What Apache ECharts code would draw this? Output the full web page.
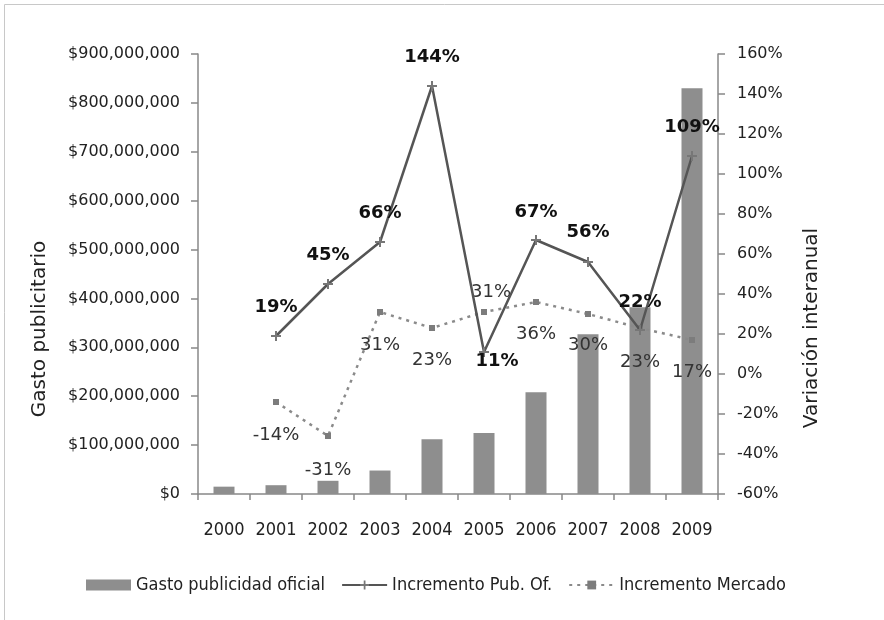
<!DOCTYPE html>
<html>
<head>
<meta charset="utf-8">
<script src="https://cdn.jsdelivr.net/npm/echarts@6/dist/echarts.min.js"></script>
<style>
  html, body { margin: 0; padding: 0; background: #fff; }
  #main { width: 884px; height: 620px; }
</style>
</head>
<body>
<div id="main"></div>
<script>
var years = ['2000', '2001', '2002', '2003', '2004', '2005', '2006', '2007', '2008', '2009'];
// gasto publicidad oficial ($)
var gasto = [15000000, 18000000, 27000000, 48000000, 112000000, 125000000, 208000000, 327000000, 382000000, 830000000];
// variacion interanual (%)
var incPub = [null, 19, 45, 66, 144, 11, 67, 56, 22, 109];
var incMercado = [null, -14, -31, 31, 23, 31, 36, 30, 23, 17];

// label offsets (px, from the point)
var pubOffsets = [null, [0, -29], [0, -29], [0, -29], [0, -29], [13, 9], [0, -28], [0, -30], [0, -28], [0, -29]];
var merOffsets = [null, [0, 33], [0, 34], [0, 33], [0, 32], [7, -20], [0, 32], [0, 31], [0, 34], [0, 32]];

var numFont = 'DejaVu Sans';
var condFont = '"DejaVu Sans Condensed", "DejaVu Sans", sans-serif';

function withLabels(values, offsets) {
    return values.map(function (v, i) {
        if (v == null) return v;
        return { value: v, label: { offset: offsets[i] } };
    });
}

var myChart = echarts.init(document.getElementById('main'));

var option = {
    animation: false,
    grid: { left: 198, right: 166, top: 54, bottom: 126 },
    graphic: [
        {
            type: 'rect',
            shape: { x: 4.5, y: 4.5, width: 2000, height: 2000 },
            style: { fill: 'none', stroke: '#c8c8c8', lineWidth: 1 },
            silent: true
        },
        {
            type: 'text', x: 40, y: 329, rotation: Math.PI / 2,
            style: { text: 'Gasto publicitario', fill: '#222', font: '20px DejaVu Sans', textAlign: 'center', textVerticalAlign: 'middle' }
        },
        {
            type: 'text', x: 812, y: 328, rotation: Math.PI / 2,
            style: { text: 'Variación interanual', fill: '#222', font: '20px DejaVu Sans', textAlign: 'center', textVerticalAlign: 'middle' }
        }
    ],
    legend: {
        left: 81,
        top: 571,
        itemWidth: 45,
        itemHeight: 11,
        itemGap: 16,
        textStyle: { fontFamily: condFont, fontSize: 18, color: '#222' },
        data: [
            { name: 'Gasto publicidad oficial', icon: 'rect' },
            'Incremento Pub. Of.',
            'Incremento Mercado'
        ]
    },
    xAxis: {
        type: 'category',
        data: years,
        axisLine: { lineStyle: { color: '#888', width: 1.5 } },
        axisTick: { show: true, interval: 0, length: 6, lineStyle: { color: '#888', width: 1.5 } },
        axisLabel: { interval: 0, margin: 27, fontFamily: condFont, fontSize: 18, color: '#222' }
    },
    yAxis: [
        {
            type: 'value',
            min: 0, max: 900000000, interval: 100000000,
            splitLine: { show: false },
            axisLine: { show: true, lineStyle: { color: '#888', width: 1.5 } },
            axisTick: { show: true, length: 7, lineStyle: { color: '#888', width: 1.5 } },
            axisLabel: {
                margin: 18, fontFamily: numFont, fontSize: 16, color: '#222',
                formatter: function (v) { return '$' + v.toLocaleString('en-US'); }
            }
        },
        {
            type: 'value',
            min: -60, max: 160, interval: 20,
            position: 'right',
            splitLine: { show: false },
            axisLine: { show: true, lineStyle: { color: '#888', width: 1.5 } },
            axisTick: { show: true, length: 7, lineStyle: { color: '#888', width: 1.5 } },
            axisLabel: {
                margin: 19, fontFamily: numFont, fontSize: 16, color: '#222',
                formatter: function (v) { return v + '%'; }
            }
        }
    ],
    series: [
        {
            name: 'Gasto publicidad oficial',
            type: 'bar',
            data: gasto,
            barWidth: 21,
            itemStyle: { color: '#8e8e8e' },
            z: 1
        },
        {
            name: 'Incremento Mercado',
            type: 'line',
            yAxisIndex: 1,
            data: withLabels(incMercado, merOffsets),
            symbol: 'rect',
            symbolSize: 6,
            itemStyle: { color: '#7c7c7c' },
            lineStyle: { color: '#8a8a8a', width: 2.5, type: [3, 5] },
            label: {
                show: true, position: 'inside', fontFamily: numFont, fontSize: 18, color: '#333',
                formatter: '{c}%'
            },
            z: 3
        },
        {
            name: 'Incremento Pub. Of.',
            type: 'line',
            yAxisIndex: 1,
            data: withLabels(incPub, pubOffsets),
            symbol: 'path://M4,0h2v10h-2z M0,4h10v2h-10z',
            symbolSize: 10,
            itemStyle: { color: '#777' },
            lineStyle: { color: '#555', width: 2.5 },
            label: {
                show: true, position: 'inside', fontFamily: numFont, fontWeight: 'bold', fontSize: 18, color: '#111',
                formatter: '{c}%'
            },
            z: 4
        }
    ]
};
myChart.setOption(option);
</script>
</body>
</html>
